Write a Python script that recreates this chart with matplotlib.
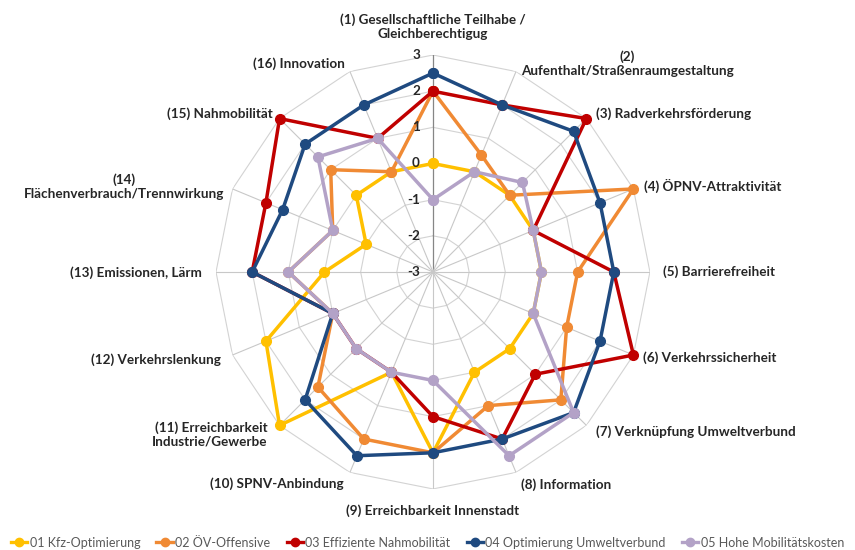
import numpy as np
import matplotlib
matplotlib.use("Agg")
import matplotlib.pyplot as plt
from matplotlib.lines import Line2D

plt.rcParams['font.family'] = ['Lato', 'DejaVu Sans']

categories = [
    "(1) Gesellschaftliche Teilhabe /\nGleichberechtigug",
    "(2)\nAufenthalt/Straßenraumgestaltung",
    "(3) Radverkehrsförderung",
    "(4) ÖPNV-Attraktivität",
    "(5) Barrierefreiheit",
    "(6) Verkehrssicherheit",
    "(7) Verknüpfung Umweltverbund",
    "(8) Information",
    "(9) Erreichbarkeit Innenstadt",
    "(10) SPNV-Anbindung",
    "(11) Erreichbarkeit\nIndustrie/Gewerbe",
    "(12) Verkehrslenkung",
    "(13) Emissionen, Lärm",
    "(14)\nFlächenverbrauch/Trennwirkung",
    "(15) Nahmobilität",
    "(16) Innovation",
]

series_names = [
    "01 Kfz-Optimierung",
    "02 ÖV-Offensive",
    "03 Effiziente Nahmobilität",
    "04 Optimierung Umweltverbund",
    "05 Hohe Mobilitätskosten",
]

kfz_optimierung     = [0, 0, 0, 0, 0, 0, 0, 0, 2, 0, 3, 2, 0, -1, 0, 0]
oev_offensive       = [2, 0.5, 0, 3, 1, 1, 2, 1, 2, 2, 1.5, 0, 1, 0, 1, 0]
eff_nahmobilitaet   = [2, 2, 3, 0, 2, 3, 1, 2, 1, 0, 0, 0, 2, 2, 3, 1]
opt_umweltverbund   = [2.5, 2, 2.5, 2, 2, 2, 2.5, 2, 2, 2.5, 2, 0, 2, 1.5, 2, 2]
hohe_mobkosten      = [-1, 0, 0.5, 0, 0, 0, 2.5, 2.5, 0, 0, 0, 0, 1, 0, 1.5, 1]

tick_values = [-3, -2, -1, 0, 1, 2, 3]
tick_labels = ["-3", "-2", "-1", "0", "1", "2", "3"]

colors = ["#FFC000", "#F08A34", "#C00000", "#1F4A80", "#B3A2C7"]

all_series = [kfz_optimierung, oev_offensive, eff_nahmobilitaet,
              opt_umweltverbund, hohe_mobkosten]

# label placement: (ha, dx_px, dy_px) offset from the outer spoke tip
label_layout = [
    ("center", 0, -28), ("center", 111, -8), ("left", 10, -5), ("left", 11, -3),
    ("left", 13, 0), ("left", 10, 3), ("left", 10, 6), ("left", 5, 12),
    ("center", 0, 22), ("right", -6, 11), ("right", -12, 9), ("right", -12, 5),
    ("right", -14, 1), ("center", -108, -2), ("right", -7, -5), ("right", -5, -8),
]

fig = plt.figure(figsize=(8.55, 5.5), dpi=100)
ax = fig.add_axes([0.2526, 0.111, 0.5076, 0.789], projection='polar')
ax.set_theta_zero_location('N')
ax.set_theta_direction(-1)
ax.set_ylim(-3, 3)
ax.grid(False)
ax.set_xticks([])
ax.set_yticks([])
ax.spines['polar'].set_visible(False)
ax.patch.set_alpha(0)

n = len(categories)
theta = np.arange(n) * 2 * np.pi / n
theta_c = np.append(theta, theta[0])

# polygon grid
for lvl in tick_values[1:]:
    ax.plot(theta_c, [lvl] * (n + 1), color="#D3D3D3", lw=0.8, zorder=1)
for i, t in enumerate(theta):
    ax.plot([t, t], [-3, 3], color="#868686" if i == 0 else "#C8C8C8",
            lw=0.9 if i == 0 else 0.8, zorder=1)

# series
for vals, col in zip(all_series, colors):
    v = list(vals) + [vals[0]]
    ax.plot(theta_c, v, color=col, lw=2.5, marker='o', markersize=7,
            markeredgecolor=col, zorder=3, clip_on=False)

# value tick labels
for tv, tl in zip(tick_values, tick_labels):
    ax.annotate(tl, xy=(0, tv), xytext=(-13, 0), textcoords='offset pixels',
                ha='right', va='center', fontsize=9.7, fontweight='bold',
                color='#262626', zorder=5)

# category labels
for t, lab, (ha, dx, dy) in zip(theta, categories, label_layout):
    ax.annotate(lab, xy=(t, 3), xytext=(dx, -dy), textcoords='offset pixels',
                ha=ha, va='center', multialignment='center' if ha == 'center' else ha,
                fontsize=9.7, fontweight='bold', color='#262626',
                annotation_clip=False, linespacing=1.2)

handles = [Line2D([0], [0], color=c, lw=2.4, marker='o', markersize=6)
           for c in colors]
fig.legend(handles, series_names, loc='lower center', bbox_to_anchor=(0.5, -0.018),
           ncol=5, frameon=False, handlelength=1.3, handletextpad=0.2,
           columnspacing=1.3, fontsize=9, labelcolor='#595959')

fig.savefig("out.png", dpi=100)
